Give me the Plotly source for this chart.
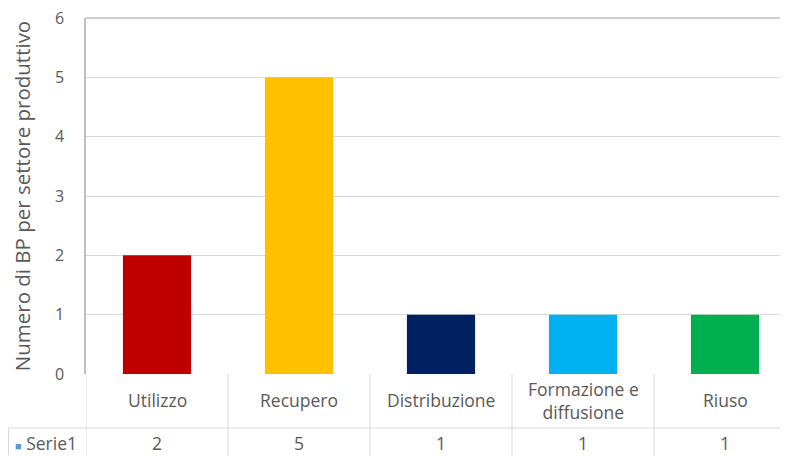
import plotly.graph_objects as go

# dati
categorie = ["Utilizzo", "Recupero", "Distribuzione", "Formazione e<br>diffusione", "Riuso"]
valori = [2, 5, 1, 1, 1]
colori = ["#c00000", "#ffc000", "#002060", "#00b0f0", "#00b050"]
serie_nome = "Serie1"
y_ticks = [0, 1, 2, 3, 4, 5, 6]

# la pagina html ha un margine di 8px: coordinate in pixel della pagina -> figura
OFF = 8
W, H = 788, 456
L, T = 86 - OFF, 18 - OFF
B = H - (374 - OFF)
plot_w = W - L
plot_h = H - T - B
cat_w = 142.0

def py(p):  # pixel pagina y -> paper
    return (H - B - (p - OFF)) / plot_h

def px(p):  # pixel pagina x -> paper
    return (p - OFF - L) / plot_w

font = "Open Sans"
grigio = "#595959"
x = list(range(len(categorie)))

fig = go.Figure(go.Bar(
    x=x, y=valori, width=0.48,
    marker=dict(color=colori, line=dict(width=0)),
    name=serie_nome, showlegend=False,
))

shapes = []
# griglia tabella sotto il grafico
for k in range(len(categorie) + 1):
    shapes.append(dict(type="line", xref="x", yref="paper", x0=k - 0.5, x1=k - 0.5,
                       y0=0, y1=py(H + 10), line=dict(color="#d9d9d9", width=1)))
shapes.append(dict(type="line", xref="paper", yref="paper", x0=px(8), x1=px(W + 10),
                   y0=py(428), y1=py(428), line=dict(color="#d9d9d9", width=1)))
shapes.append(dict(type="line", xref="paper", yref="paper", x0=px(8.5), x1=px(8.5),
                   y0=py(428), y1=py(H + 10), line=dict(color="#d9d9d9", width=1)))
# bordo superiore
shapes.append(dict(type="line", xref="paper", yref="paper", x0=0, x1=1,
                   y0=1, y1=1, line=dict(color="#bfbfbf", width=1.5)))

annotations = []
for i, c in enumerate(categorie):
    annotations.append(dict(x=i, y=py(400), xref="x", yref="paper", text=c, showarrow=False,
                            xanchor="center", yanchor="middle",
                            font=dict(family=font, size=17.5, color=grigio), align="center"))
    annotations.append(dict(x=i, y=py(443), xref="x", yref="paper", text=str(valori[i]),
                            showarrow=False, xanchor="center", yanchor="middle",
                            font=dict(family=font, size=17.5, color=grigio)))
annotations.append(dict(x=px(13), y=py(443), xref="paper", yref="paper",
                        xanchor="left", yanchor="middle",
                        text='<span style="color:#5b9bd5;font-size:11px">■</span> ' + serie_nome,
                        showarrow=False, font=dict(family=font, size=17.5, color=grigio)))

fig.update_layout(
    width=W, height=H,
    margin=dict(l=L, r=0, t=T, b=B, pad=0),
    paper_bgcolor="white", plot_bgcolor="white",
    xaxis=dict(range=[-0.5, -0.5 + plot_w / cat_w], showticklabels=False, showgrid=False,
               zeroline=False, ticks="", automargin=False),
    yaxis=dict(range=[0, 6], tickvals=y_ticks, showgrid=True, gridcolor="#d9d9d9",
               zeroline=False, showline=True, linecolor="#bfbfbf", linewidth=1.5,
               automargin=False, ticklabeloverflow="allow",
               tickfont=dict(family=font, size=16, color=grigio), ticklabelstandoff=17,
               title=dict(text="Numero di BP per settore produttivo", standoff=26,
                          font=dict(family=font, size=20.5, color=grigio))),
    shapes=shapes,
    annotations=annotations,
)

fig.write_html("out.html")
